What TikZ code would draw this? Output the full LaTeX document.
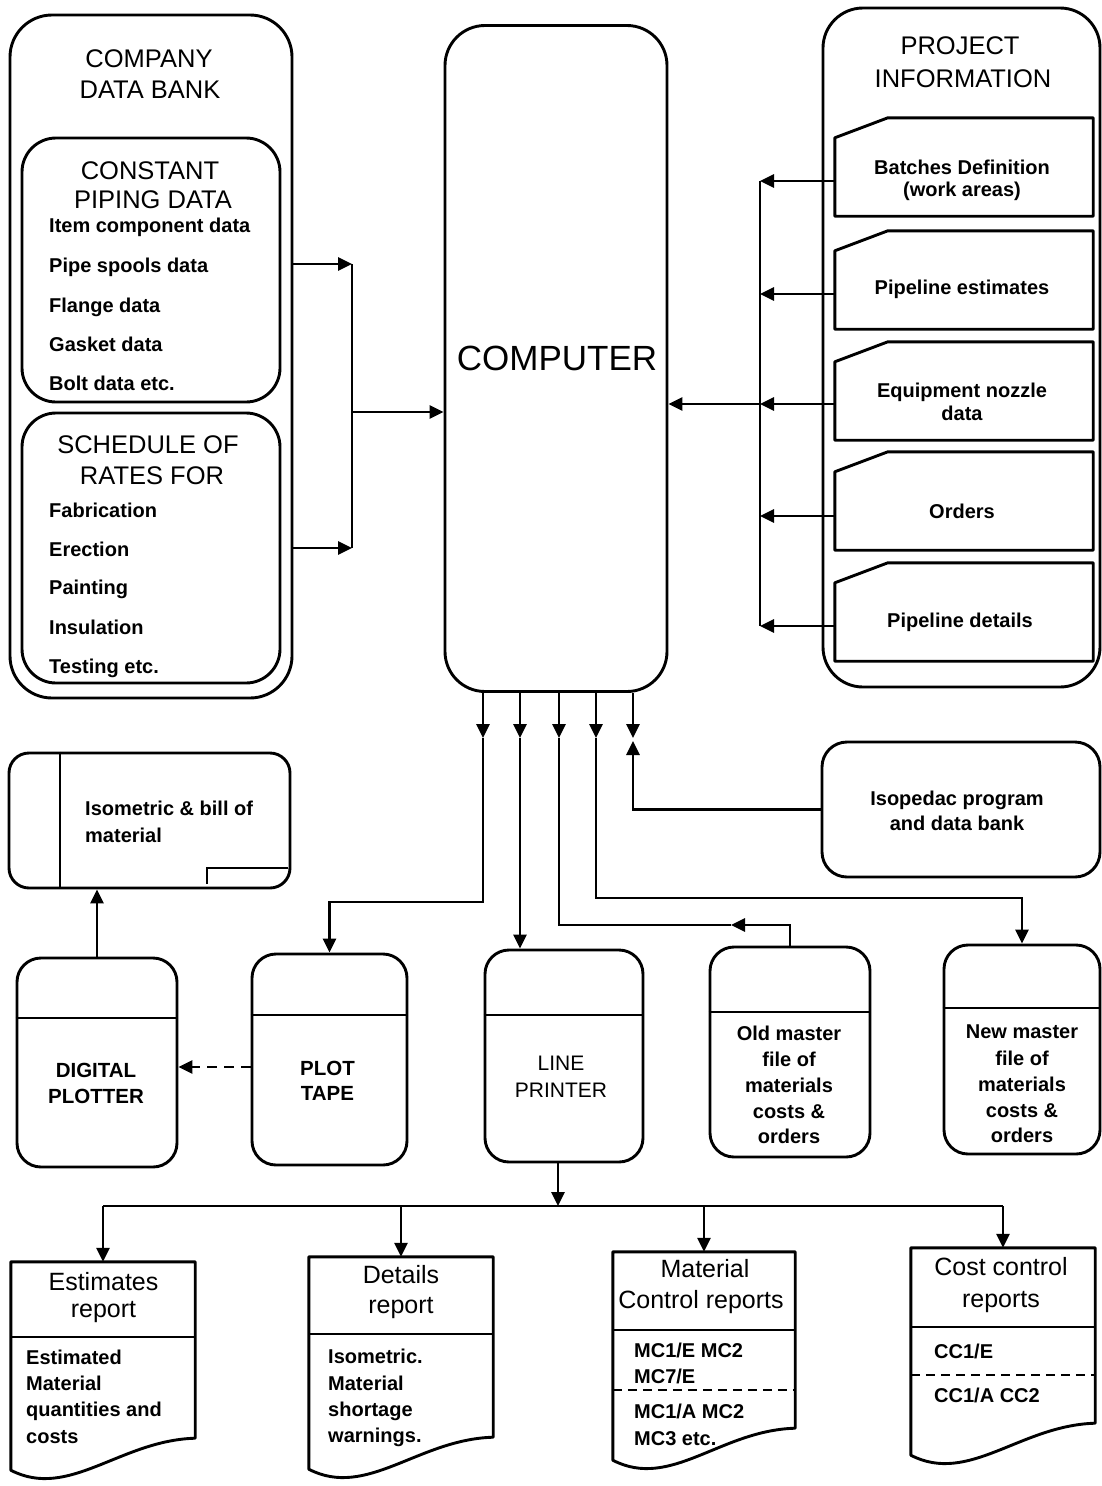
\documentclass[tikz,border=0pt]{standalone}
\usepackage{fontspec}
\setmainfont{Liberation Sans}
\usetikzlibrary{arrows.meta,calc}

\begin{document}
\begin{tikzpicture}[x=1pt,y=-1pt,
  outline/.style={draw,line width=2.9pt,line join=round},
  rbox/.style={outline,rounded corners=#1,inner sep=0pt},
  blank/.style={inner sep=0pt},
  link/.style={line width=2.7pt},
  arr/.style={link,-{Triangle[length=14pt,width=13pt]}},
  dashline/.style={link,dash pattern=on 9pt off 6pt},
  headtxt/.style={font=\fontsize{25.5}{30}\selectfont,inner sep=0pt,anchor=base},
  itemtxt/.style={font=\bfseries\fontsize{20}{24}\selectfont,inner sep=0pt,anchor=base west},
  ctrtxt/.style={font=\bfseries\fontsize{20}{24}\selectfont,inner sep=0pt,anchor=base},
  unittxt/.style={font=\bfseries\fontsize{20.5}{24}\selectfont,inner sep=0pt,anchor=base},
  lptxt/.style={font=\fontsize{21}{24}\selectfont,inner sep=0pt,anchor=base},
  reptxt/.style={font=\fontsize{25}{30}\selectfont,inner sep=0pt,anchor=base},
]
\useasboundingbox (0,0) rectangle (1102,1486);

% ---------- company data bank ----------
\node[rbox=42pt,minimum width=282pt,minimum height=683pt] (cdb) at (151,356.5) {};
\node[rbox=34pt,minimum width=258pt,minimum height=264pt] (cpd) at (151,270) {};
\node[rbox=34pt,minimum width=258pt,minimum height=270pt] (sor) at (151,548) {};
\node[headtxt] (cdbt1) at (149,67) {COMPANY};
\node[headtxt] (cdbt2) at (150,98) {DATA BANK};
\node[headtxt] (cpdt1) at (150,179) {CONSTANT};
\node[headtxt] (cpdt2) at (153,208) {PIPING DATA};
\foreach \t/\y [count=\i] in {Item component data/232,Pipe spools data/272,Flange data/312,Gasket data/351,Bolt data etc./390}
  \node[itemtxt] (cpdi\i) at (49,\y) {\t};
\node[headtxt] (sort1) at (148,453) {SCHEDULE OF};
\node[headtxt] (sort2) at (152,484) {RATES FOR};
\foreach \t/\y [count=\i] in {Fabrication/517,Erection/556,Painting/594,Insulation/634,Testing etc./673}
  \node[itemtxt] (sori\i) at (49,\y) {\t};

% ---------- computer ----------
\node[rbox=40pt,minimum width=222pt,minimum height=666pt] (comp) at (556,358.5) {};
\node[font=\fontsize{35}{40}\selectfont,inner sep=0pt,anchor=base] (compt) at (557,370) {COMPUTER};

% inputs from the company data bank
\coordinate (lbus1) at (352,264);
\coordinate (lbus2) at (352,548);
\coordinate (lbusm) at (352,412);
\draw[arr] (cdb.east |- lbus1) -- (lbus1);
\draw[arr] (cdb.east |- lbus2) -- (lbus2);
\draw[link] (lbus1) -- (lbus2);
\draw[arr] (lbusm) -- (comp.west |- lbusm);

% ---------- project information ----------
\node[rbox=40pt,minimum width=277pt,minimum height=679pt] (proj) at (961.5,347.5) {};
\node[headtxt] (projt1) at (960,54) {PROJECT};
\node[headtxt] (projt2) at (963,87) {INFORMATION};
\foreach \n/\cy in {1/177,2/290,3/401,4/511,5/622}
  \node[blank,minimum width=258pt,minimum height=78pt] (card\n) at (964,\cy) {};
\foreach \n in {1,...,5}
  \draw[outline] (card\n.north west) -- ++(53,-20) -- ([yshift=20pt]card\n.north east)
    -- (card\n.south east) -- (card\n.south west) -- cycle;
\node[ctrtxt] (ct1a) at (962,174) {Batches Definition};
\node[ctrtxt] (ct1b) at (962,196) {(work areas)};
\node[ctrtxt] (ct2) at (962,294) {Pipeline estimates};
\node[ctrtxt] (ct3a) at (962,397) {Equipment nozzle};
\node[ctrtxt] (ct3b) at (962,420) {data};
\node[ctrtxt] (ct4) at (962,518) {Orders};
\node[ctrtxt] (ct5) at (960,627) {Pipeline details};

\coordinate (rbus) at (760,404);
\foreach \n/\ay in {1/181,2/294,3/404,4/516,5/626}
  \draw[arr] (card\n.west |- 0,\ay) -- (760,\ay);
\draw[link] (760,181) -- (760,626);
\draw[arr] (rbus) -- (comp.east |- rbus);

% ---------- isometric output ----------
\node[rbox=20pt,minimum width=281pt,minimum height=135pt] (isom) at (149.5,820.5) {};
\draw[link] (isom.north -| 60,0) -- (isom.south -| 60,0);
\draw[link] (207,884) -- (207,868) -- (288,868);
\node[itemtxt] (isomt1) at (85,815) {Isometric \& bill of};
\node[itemtxt] (isomt2) at (85,842) {material};

% ---------- isopedac ----------
\node[rbox=25pt,minimum width=278pt,minimum height=135pt] (isop) at (961,809.5) {};
\node[ctrtxt] (isopt1) at (957,805) {Isopedac program};
\node[ctrtxt] (isopt2) at (957,830) {and data bank};

% ---------- peripheral units ----------
\node[rbox=24pt,minimum width=160pt,minimum height=209pt] (plotter) at (97,1062.5) {};
\node[rbox=24pt,minimum width=155pt,minimum height=211pt] (ptape) at (329.5,1059.5) {};
\node[rbox=24pt,minimum width=158pt,minimum height=212pt] (lp) at (564,1056) {};
\node[rbox=24pt,minimum width=160pt,minimum height=210pt] (om) at (790,1052) {};
\node[rbox=24pt,minimum width=156pt,minimum height=209pt] (nm) at (1022,1049.5) {};
\foreach \u/\ly in {plotter/1018,ptape/1015,lp/1015,om/1012,nm/1008}
  \draw[link] (\u.west |- 0,\ly) -- (\u.east |- 0,\ly);

\node[unittxt] (plt1) at (96,1077) {DIGITAL};
\node[unittxt] (plt2) at (96,1103) {PLOTTER};
\node[unittxt] (ptt1) at (327.5,1075) {PLOT};
\node[unittxt] (ptt2) at (327.5,1100) {TAPE};
\node[lptxt] (lpt1) at (561,1070) {LINE};
\node[lptxt] (lpt2) at (561,1097) {PRINTER};
\foreach \t/\y [count=\i] in {Old master/1040,file of/1066,materials/1092,costs \&/1118,orders/1143}
  \node[ctrtxt] (omt\i) at (789,\y) {\t};
\foreach \t/\y [count=\i] in {New master/1038,file of/1065,materials/1091,costs \&/1117,orders/1142}
  \node[ctrtxt] (nmt\i) at (1022,\y) {\t};

% ---------- computer output channels ----------
\foreach \x in {483,520,559,596,633}
  \draw[arr] (\x,0 |- comp.south) -- (\x,738);
\draw[arr] (483,738) -- (483,902) -| (ptape.north);
\draw[arr] (520,738) -- (520,0 |- lp.north);
\draw[arr] (om.north) |- (731,925);
\draw[link] (731,925) -- (559,925) -- (559,738);
\draw[arr] (596,738) -- (596,898) -| (nm.north);
\draw[arr] (isop.west) -| (633,741);

\draw[arr] (plotter.north) -- (plotter.north |- isom.south);
\draw[arr,dash pattern=on 10pt off 7pt] (ptape.west |- 0,1067) -- (plotter.east |- 0,1067);

% ---------- reports ----------
\node[blank,minimum width=184pt,minimum height=176pt] (est) at (103,1350) {};
\node[blank,minimum width=184pt,minimum height=180pt] (det) at (401,1347) {};
\node[blank,minimum width=182pt,minimum height=176pt] (mat) at (704,1340) {};
\node[blank,minimum width=184pt,minimum height=175pt] (cost) at (1003,1335.5) {};
\foreach \d in {est,det,mat,cost}
  \draw[outline] (\d.north west) -- (\d.north east) -- (\d.south east)
    .. controls ($(\d.south east)+(-75,2)$) and ($(\d.south west)+(58,62)$) .. ($(\d.south west)+(0,32)$) -- cycle;
\foreach \d/\hy in {est/1337,det/1334,mat/1330,cost/1327}
  \draw[link] (\d.west |- 0,\hy) -- (\d.east |- 0,\hy);
\draw[dashline] (mat.west |- 0,1390) -- (mat.east |- 0,1390);
\draw[dashline] (cost.west |- 0,1375) -- (cost.east |- 0,1375);

\coordinate (bus) at (558,1206);
\draw[arr] (558,0 |- lp.south) -- (bus);
\draw[link] (est.north |- bus) -- (cost.north |- bus);
\foreach \d in {est,det,mat,cost}
  \draw[arr] (\d.north |- bus) -- (\d.north);

\node[reptxt] (estt1) at (103.5,1290) {Estimates};
\node[reptxt] (estt2) at (103.5,1317) {report};
\foreach \t/\y [count=\i] in {Estimated/1364,Material/1390,quantities and/1416,costs/1443}
  \node[itemtxt] (estb\i) at (26,\y) {\t};
\node[reptxt] (dett1) at (401,1283) {Details};
\node[reptxt] (dett2) at (401,1313) {report};
\foreach \t/\y [count=\i] in {Isometric./1363,Material/1390,shortage/1416,warnings./1442}
  \node[itemtxt] (detb\i) at (328,\y) {\t};
\node[reptxt] (matt1) at (705,1277) {Material};
\node[reptxt] (matt2) at (701,1308) {Control reports};
\foreach \t/\y [count=\i] in {{MC1/E MC2}/1357,{MC7/E}/1383,{MC1/A MC2}/1418,{MC3 etc.}/1445}
  \node[itemtxt] (matb\i) at (634,\y) {\t};
\node[reptxt] (costt1) at (1001,1275) {Cost control};
\node[reptxt] (costt2) at (1001,1307) {reports};
\foreach \t/\y [count=\i] in {{CC1/E}/1358,{CC1/A CC2}/1402}
  \node[itemtxt] (costb\i) at (934,\y) {\t};
\end{tikzpicture}
\end{document}
